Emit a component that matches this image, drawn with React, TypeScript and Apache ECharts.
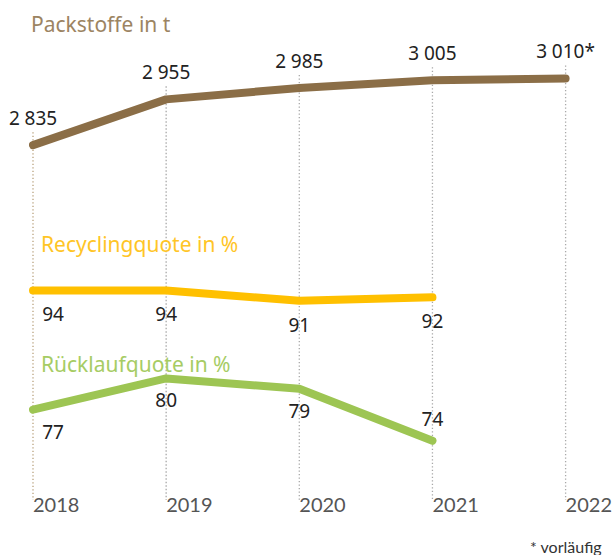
import React, { useEffect, useRef } from "react";
import * as echarts from "echarts";

const years = ["2018", "2019", "2020", "2021", "2022"];
const packstoffe = [2835, 2955, 2985, 3005, 3010];
const packstoffeMarks = ["", "", "", "", "*"];
const recycling: (number | null)[] = [94, 94, 91, 92, null];
const ruecklauf: (number | null)[] = [77, 80, 79, 74, null];

const titles = ["Packstoffe in t", "Recyclingquote in %", "Rücklaufquote in %"];
const footnote = "* vorläufig";

const BROWN = "#8b6e47";
const YELLOW = "#ffc000";
const GREEN = "#9dc553";
const FONT = "'Noto Sans', sans-serif";

function fmtThousands(v: number): string {
  return String(v).replace(/\B(?=(\d{3})+(?!\d))/g, "\u2005");
}

export default function App() {
  const ref = useRef<HTMLDivElement>(null);
  useEffect(() => {
    if (!ref.current) return;
    const chart = echarts.init(ref.current, null, { renderer: "svg" });

    const labelBase = {
      show: true,
      fontFamily: FONT,
      fontSize: 19,
      color: "#222",
    };

    const recData = recycling.map((v, i) => ({
      value: v,
      label: i === 0 ? { offset: [20, 0] } : undefined,
    }));
    const rueData = ruecklauf.map((v, i) => ({
      value: v,
      label:
        i === 0
          ? { offset: [20, 0] }
          : i === 3
          ? { position: "top", distance: 12 }
          : undefined,
    }));

    const lineCommon = {
      type: "line",
      z: 3,
      symbol: "circle",
      symbolSize: 1,
      showSymbol: true,
    };

    chart.setOption({
      animation: false,
      backgroundColor: "#ffffff",
      title: [
        {
          text: titles[0],
          left: 26,
          top: 8,
          textStyle: { fontFamily: FONT, fontSize: 21, fontWeight: "normal", color: "#9c8462" },
        },
        {
          text: titles[1],
          left: 36,
          top: 228,
          textStyle: { fontFamily: FONT, fontSize: 21, fontWeight: "normal", color: "#ffc526" },
        },
        {
          text: titles[2],
          left: 36,
          top: 348,
          textStyle: { fontFamily: FONT, fontSize: 21, fontWeight: "normal", color: "#a6cc64" },
        },
        {
          text: footnote,
          right: 8,
          top: 533,
          textStyle: { fontFamily: "Lato, sans-serif", fontSize: 16, fontWeight: "normal", color: "#333" },
        },
      ],
      grid: { left: 33, right: 46, top: 20, bottom: 55, containLabel: false },
      xAxis: {
        type: "category",
        data: years,
        boundaryGap: false,
        axisLine: { show: false },
        axisTick: { show: false },
        splitLine: { show: false },
        axisLabel: {
          align: "left",
          verticalAlign: "top",
          margin: -6,
          fontFamily: "Lato, sans-serif",
          fontSize: 20,
          color: "#555",
        },
      },
      yAxis: [
        { type: "value", min: 1905, max: 3163, show: false },
        { type: "value", min: 33.1, max: 172.6, show: false },
        { type: "value", min: 68.3, max: 114.5, show: false },
      ],
      series: [
        {
          type: "custom",
          xAxisIndex: 0,
          yAxisIndex: 0,
          z: 1,
          silent: true,
          data: packstoffe.map((v, i) => [i, v]),
          encode: { x: 0, y: 1 },
          renderItem: (params: any, api: any) => {
            const p = api.coord([api.value(0), api.value(1)]);
            const cs = params.coordSys;
            const bottom = cs.y + cs.height;
            return {
              type: "line",
              shape: { x1: p[0], y1: p[1] - 13, x2: p[0], y2: bottom },
              style: {
                stroke: params.dataIndex === 0 ? "#b8a07c" : "#a8a8a8",
                lineWidth: 1.3,
                lineDash: [1.3, 2.2],
              },
            };
          },
        },
        {
          ...lineCommon,
          yAxisIndex: 0,
          data: packstoffe,
          itemStyle: { color: BROWN },
          lineStyle: { color: BROWN, width: 8, cap: "round", join: "round" },
          label: {
            ...labelBase,
            position: "top",
            distance: 17,
            formatter: (p: any) => fmtThousands(p.value) + packstoffeMarks[p.dataIndex],
          },
        },
        {
          ...lineCommon,
          yAxisIndex: 1,
          data: recData,
          itemStyle: { color: YELLOW },
          lineStyle: { color: YELLOW, width: 8, cap: "round", join: "round" },
          label: { ...labelBase, position: "bottom", distance: 14 },
        },
        {
          ...lineCommon,
          yAxisIndex: 2,
          data: rueData,
          itemStyle: { color: GREEN },
          lineStyle: { color: GREEN, width: 8, cap: "round", join: "round" },
          label: { ...labelBase, position: "bottom", distance: 12 },
        },
      ],
    });
    return () => chart.dispose();
  }, []);
  return (
    <div
      ref={ref}
      style={{ position: "absolute", left: 0, top: 0, width: 615, height: 555 }}
    />
  );
}
